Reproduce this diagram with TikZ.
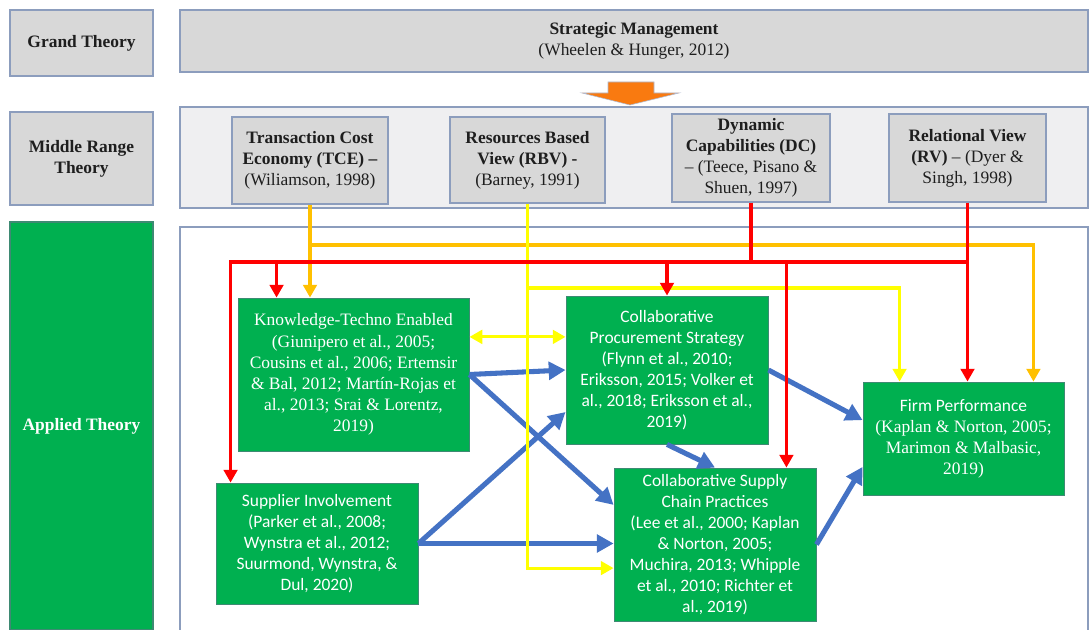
\documentclass[tikz,border=0pt]{standalone}
\usepackage{fontspec}
\setmainfont{Liberation Serif}
\newfontfamily\calib{Carlito}
\usepackage{tikz}
\usetikzlibrary{arrows.meta,calc,positioning}
\definecolor{tframe}{HTML}{8C9DBD}
\definecolor{tgray}{HTML}{D8D8D8}
\definecolor{tband}{HTML}{EFEFF1}
\definecolor{tgreen}{HTML}{00B050}
\definecolor{tgreenedge}{HTML}{3E8A73}
\definecolor{tred}{HTML}{FF0000}
\definecolor{tamber}{HTML}{FFC000}
\definecolor{tyellow}{HTML}{FFFF00}
\definecolor{tblue}{HTML}{4472C4}
\definecolor{tdown}{HTML}{F97A10}
\definecolor{tink}{HTML}{1E1E1E}

\begin{document}
\begin{tikzpicture}[x=0.025cm,y=-0.025cm,line join=miter,
  font=\fontsize{12.4}{15}\selectfont,text=tink,
  lbl/.style={draw=tframe,line width=1pt,fill=tgray,align=center,inner sep=2pt,
    minimum width=3.575cm},
  thy/.style={draw=tframe,line width=1pt,fill=tgray,align=center,inner sep=2pt},
  band/.style={draw=tframe,line width=1pt,inner sep=0pt},
  app/.style={draw=tgreenedge,line width=.6pt,fill=tgreen,text=white,align=center,
    inner sep=2pt},
  capp/.style={app,font=\fontsize{12.4}{15}\selectfont\calib},
  redln/.style={draw=tred,line width=2.2pt},
  rarr/.style={redln,-{Triangle[length=3.2mm,width=3.4mm]}},
  oarr/.style={draw=tamber,line width=2.2pt,-{Triangle[length=3.2mm,width=3.4mm]}},
  yln/.style={draw=tyellow,line width=2.2pt},
  yarr/.style={yln,-{Triangle[length=3.2mm,width=3.4mm]}},
  barr/.style={draw=tblue,line width=3.6pt,-{Triangle[length=4.2mm,width=4.4mm]}}]
\path[use as bounding box] (0,0) rectangle (1091,630);
\fill[white] (0,0) rectangle (1091,630);
% left column of levels
\node[lbl,minimum height=1.65cm] (gt) at (81.5,43) {\textbf{Grand Theory}};
\node[lbl,minimum height=2.325cm] (mr) at (81.5,158.5) {\textbf{Middle Range}\\\textbf{Theory}};
\node[lbl,fill=tgreen,draw=tgreenedge,text=white,minimum height=10.2cm] (at) at (81.5,426)
  {\textbf{Applied Theory}};
% grand theory
\node[thy,minimum width=22.7cm,minimum height=1.55cm] (sm) at (634,41)
  {\textbf{Strategic Management}\\(Wheelen \& Hunger, 2012)};
\filldraw[fill=tdown,draw=tframe!70,line width=.4pt]
  (608,82) -- (654,82) -- (654,93) -- (679,93) -- (630,105) -- (582,93) -- (608,93) -- cycle;
% middle range band
\node[band,fill=tband,minimum width=22.7cm,minimum height=2.525cm] (midband) at (634,157.5) {};
\node[thy,minimum width=3.9cm,minimum height=2.175cm] (tce) at (310,160.5)
  {\textbf{Transaction Cost}\\\textbf{Economy (TCE) –}\\(Wiliamson, 1998)};
\node[thy,minimum width=3.875cm,minimum height=2.15cm] (rbv) at (527.5,160)
  {\textbf{Resources Based}\\\textbf{View (RBV) -}\\(Barney, 1991)};
\node[thy,minimum width=3.95cm,minimum height=2.2cm] (dc) at (751,158)
  {\textbf{Dynamic}\\\textbf{Capabilities (DC)}\\– (Teece, Pisano \&\\Shuen, 1997)};
\node[thy,minimum width=3.925cm,minimum height=2.2cm] (rv) at (967.5,158)
  {\textbf{Relational View}\\\textbf{(RV)} – (Dyer \&\\Singh, 1998)};
% applied theory band
\node[band,fill=white,minimum width=22.7cm,minimum height=10.2cm] (appband) at (634,431) {};
\node[app,minimum width=5.775cm,minimum height=3.825cm] (kte) at (353.5,374.5)
  {Knowledge-Techno Enabled\\(Giunipero et al., 2005;\\Cousins et al., 2006; Ertemsir\\
   \& Bal, 2012; Martín-Rojas et\\al., 2013; Srai \& Lorentz,\\2019)};
\node[capp,minimum width=5.05cm,minimum height=3.7cm] (cps) at (667,370)
  {Collaborative\\Procurement Strategy\\(Flynn et al., 2010;\\Eriksson, 2015; Volker et\\
   al., 2018; Eriksson et al.,\\2019)};
\node[capp,minimum width=5.05cm,minimum height=3.025cm] (si) at (317,543.5)
  {Supplier Involvement\\(Parker et al., 2008;\\Wynstra et al., 2012;\\Suurmond, Wynstra, \&\\Dul, 2020)};
\node[capp,minimum width=5.05cm,minimum height=3.825cm] (cscp) at (715,544.5)
  {Collaborative Supply\\Chain Practices\\(Lee et al., 2000; Kaplan\\\& Norton, 2005;\\
   Muchira, 2013; Whipple\\et al., 2010; Richter et\\al., 2019)};
\node[app,minimum width=5.025cm,minimum height=2.825cm] (fp) at (963.5,438.5)
  {{\calib Firm Performance}\\(Kaplan \& Norton, 2005;\\Marimon \& Malbasic,\\2019)};
% bus lines and entry points
\coordinate (redbus) at (0,262);
\coordinate (orbus) at (0,245);
\coordinate (yelbus) at (0,288);
\coordinate (sin) at ([xshift=0.375cm]si.north west);
\coordinate (kin) at ([xshift=0.975cm]kte.north west);
\coordinate (cin) at ([xshift=-0.75cm]cscp.north east);
\coordinate (oin) at ([xshift=-0.775cm]fp.north east);
\coordinate (yfp) at ([xshift=0.925cm]fp.north west);
\coordinate (ycs) at ([yshift=-0.59cm]cscp.west);
\coordinate (ykl) at ([yshift=0.94cm]kte.east);
% blue links between applied constructs
\draw[barr] (kte.east) -- (cps.west);
\draw[barr] (kte.east) -- ([yshift=0.99cm]cscp.west);
\draw[barr] (si.east) -- ([yshift=-1.05cm]cps.west);
\draw[barr] (si.east) -- (si.east -| cscp.west);
\draw[barr] (cps.south) -- (cscp.north);
\draw[barr] (cps.east) -- ([yshift=0.46cm]fp.west);
\draw[barr] (cscp.east) -- ([yshift=-0.71cm]fp.west);
% orange: TCE
\draw[oarr] (tce.south) -- (tce.south |- kte.north);
\draw[oarr] (tce.south |- orbus) -| (oin);
% yellow: RBV
\draw[yarr] (rbv.south) |- (ycs);
\draw[yarr] (rbv.south |- yelbus) -| (yfp);
\draw[yln,{Triangle[length=3.2mm,width=3.4mm]}-{Triangle[length=3.2mm,width=3.4mm]}]
  (ykl) -- (ykl -| cps.west);
% red: DC and RV
\draw[redln] (dc.south) -- (dc.south |- redbus);
\draw[rarr] (rv.south |- redbus) -- (sin |- redbus) -- (sin);
\draw[rarr] (rv.south) -- (rv.south |- fp.north);
\draw[rarr] (kin |- redbus) -- (kin);
\draw[rarr] (cps.north |- redbus) -- (cps.north);
\draw[rarr] (cin |- redbus) -- (cin);
\end{tikzpicture}
\end{document}
